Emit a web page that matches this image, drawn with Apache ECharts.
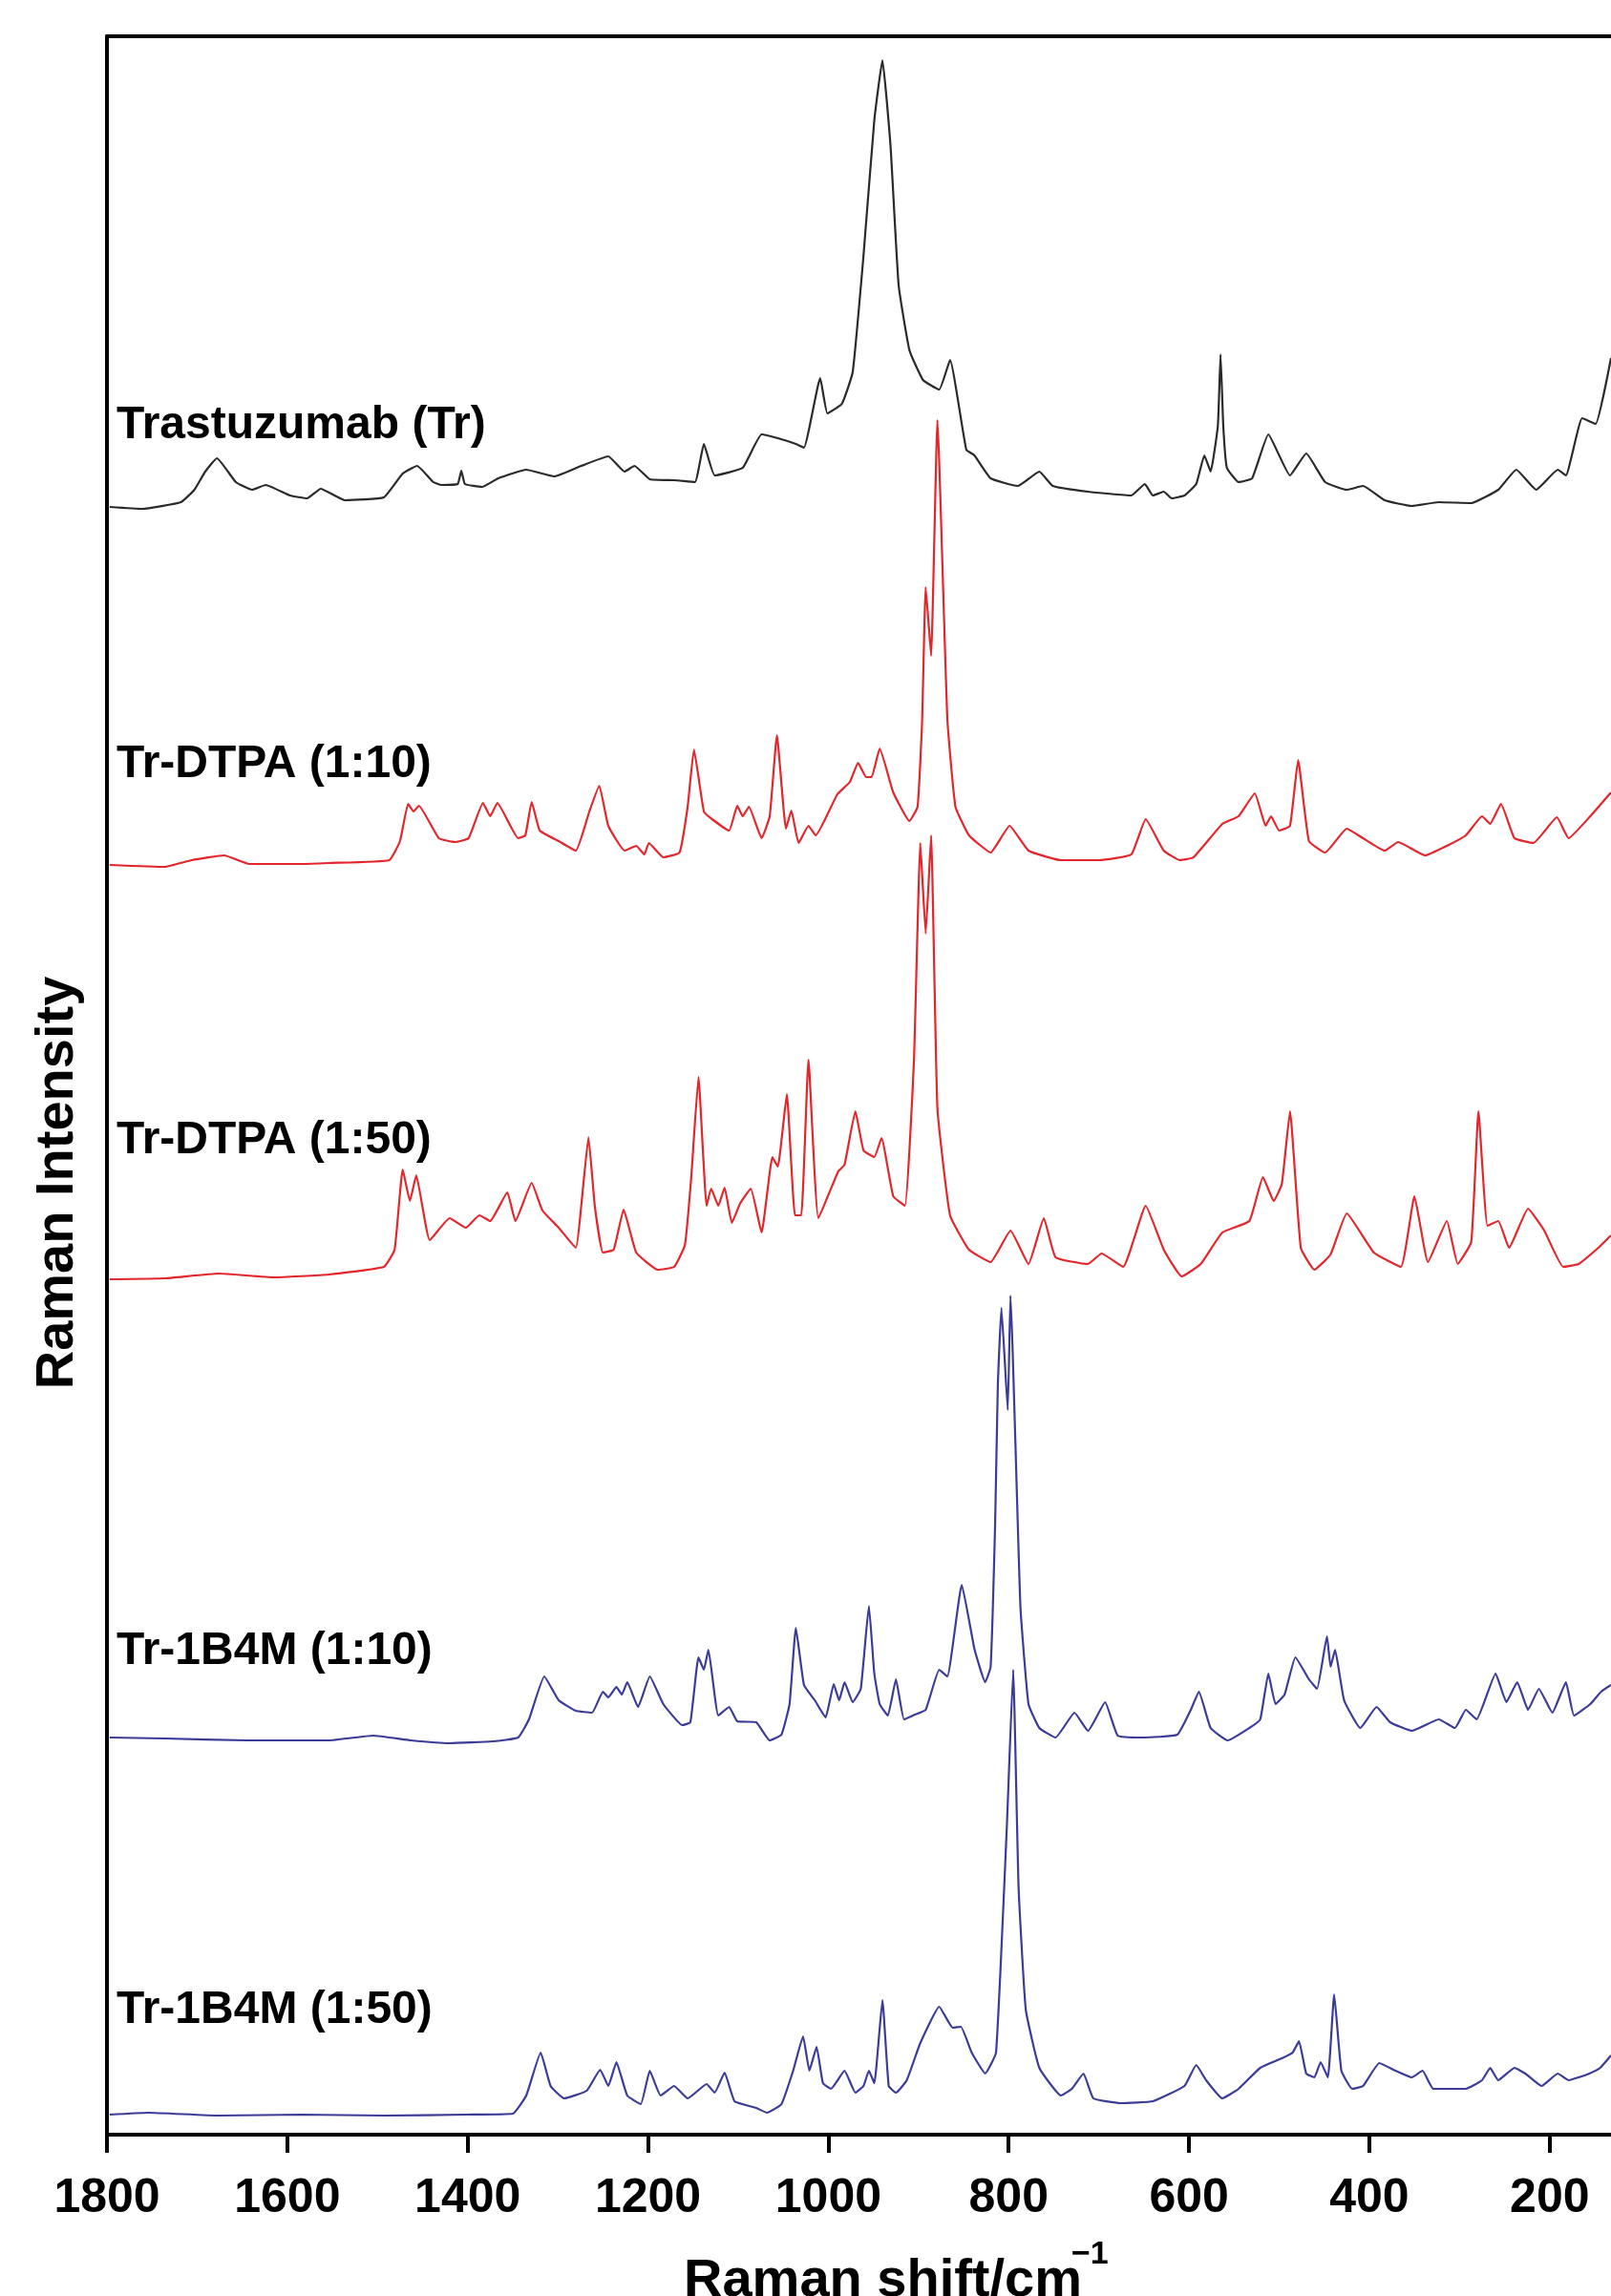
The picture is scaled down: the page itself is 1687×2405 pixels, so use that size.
<!DOCTYPE html>
<html>
<head>
<meta charset="utf-8">
<script src="https://cdn.jsdelivr.net/npm/echarts@6/dist/echarts.min.js"></script>
<style>
html,body{margin:0;padding:0;background:#fff;}
#chart{width:1687px;height:2405px;}
</style>
</head>
<body>
<div id="chart"></div>
<script>
// ---- data (x = Raman shift in cm-1, y = intensity in arbitrary stacked units) ----
const tickValues = [1800, 1600, 1400, 1200, 1000, 800, 600, 400, 200];
const seriesNames = ['Trastuzumab (Tr)', 'Tr-DTPA (1:10)', 'Tr-DTPA (1:50)', 'Tr-1B4M (1:10)', 'Tr-1B4M (1:50)'];

const trastuzumab = [[1797,1705],[1761,1703],[1718,1710],[1703,1723],[1691,1742],[1678,1756],[1657,1731],[1639,1723],[1624,1728],[1597,1717],[1578,1714],[1563,1724],[1536,1712],[1493,1715],[1472,1740],[1456,1748],[1438,1731],[1429,1728],[1411,1729],[1407,1743],[1403,1729],[1384,1726],[1366,1735],[1335,1744],[1304,1737],[1274,1748],[1244,1758],[1226,1742],[1215,1748],[1198,1734],[1171,1733],[1148,1731],[1138,1771],[1126,1738],[1095,1746],[1074,1781],[1056,1777],[1036,1771],[1027,1767],[1009,1840],[1001,1803],[985,1813],[973,1846],[961,1968],[949,2110],[940,2173],[931,2083],[922,1937],[910,1869],[895,1838],[877,1828],[865,1859],[847,1765],[838,1759],[820,1735],[790,1727],[766,1742],[751,1727],[712,1721],[664,1717],[649,1729],[640,1717],[628,1721],[619,1714],[605,1717],[592,1729],[583,1759],[576,1742],[568,1790],[565,1865],[562,1790],[558,1746],[545,1731],[530,1735],[512,1781],[488,1738],[470,1761],[449,1731],[425,1723],[407,1727],[383,1712],[353,1706],[323,1710],[287,1709],[257,1723],[237,1744],[215,1723],[191,1744],[182,1738],[164,1798],[149,1792],[132,1861]];

const dtpa10 = [[1797,1330],[1736,1328],[1706,1335],[1670,1340],[1642,1331],[1584,1331],[1554,1332],[1487,1335],[1475,1355],[1466,1394],[1460,1386],[1454,1392],[1432,1358],[1414,1354],[1399,1358],[1383,1395],[1375,1381],[1367,1395],[1344,1358],[1336,1361],[1329,1396],[1320,1366],[1299,1355],[1280,1345],[1265,1386],[1254,1413],[1244,1371],[1226,1345],[1213,1350],[1204,1341],[1199,1353],[1183,1338],[1165,1343],[1156,1391],[1149,1451],[1138,1386],[1129,1378],[1110,1366],[1101,1392],[1095,1381],[1088,1391],[1074,1358],[1065,1381],[1057,1466],[1047,1368],[1041,1387],[1033,1353],[1022,1371],[1014,1361],[990,1404],[976,1417],[967,1437],[958,1422],[952,1422],[943,1452],[928,1406],[910,1376],[901,1391],[896,1480],[892,1621],[886,1549],[879,1796],[868,1483],[859,1391],[844,1361],[820,1343],[799,1371],[778,1345],[742,1335],[700,1335],[664,1341],[648,1378],[628,1345],[610,1335],[595,1338],[563,1373],[545,1381],[527,1405],[515,1371],[509,1381],[500,1366],[488,1371],[479,1440],[467,1355],[449,1343],[425,1368],[407,1358],[383,1345],[368,1354],[338,1340],[314,1350],[293,1361],[275,1381],[266,1373],[254,1394],[239,1358],[218,1353],[192,1380],[179,1358],[155,1381],[132,1406]];

const dtpa50 = [[1797,896],[1736,897],[1676,902],[1615,898],[1554,901],[1493,909],[1481,927],[1472,1011],[1464,978],[1457,1005],[1442,937],[1420,960],[1402,950],[1387,963],[1375,957],[1356,987],[1347,957],[1329,997],[1317,968],[1299,950],[1280,929],[1274,973],[1266,1045],[1259,973],[1250,924],[1238,927],[1227,969],[1213,924],[1189,906],[1171,909],[1159,932],[1152,1003],[1144,1108],[1135,973],[1130,991],[1122,973],[1115,992],[1107,955],[1098,975],[1086,991],[1074,945],[1062,1024],[1056,1014],[1046,1090],[1037,963],[1030,963],[1022,1126],[1011,960],[989,1009],[982,1016],[970,1072],[961,1031],[949,1024],[941,1044],[928,983],[915,973],[905,1126],[898,1353],[892,1258],[886,1361],[879,1075],[865,963],[844,927],[820,914],[798,947],[778,912],[761,960],[748,919],[712,912],[697,923],[673,909],[648,973],[628,927],[608,899],[587,912],[563,945],[533,957],[518,1003],[506,978],[497,996],[488,1072],[476,929],[461,906],[443,922],[425,965],[395,924],[365,909],[350,983],[335,914],[314,957],[302,912],[287,935],[279,1072],[269,952],[257,957],[245,929],[224,970],[206,947],[185,909],[168,912],[146,929],[132,942]];

const b4m10 = [[1797,416],[1736,415],[1645,413],[1554,413],[1505,418],[1463,413],[1420,410],[1372,412],[1344,416],[1332,435],[1315,480],[1299,455],[1280,444],[1262,442],[1250,464],[1244,458],[1235,469],[1229,461],[1223,474],[1211,448],[1198,480],[1183,451],[1162,429],[1153,432],[1144,500],[1138,487],[1133,508],[1122,439],[1110,448],[1101,433],[1080,432],[1065,413],[1052,419],[1043,451],[1036,531],[1027,471],[1015,455],[1003,437],[994,472],[988,455],[982,474],[973,453],[964,467],[955,554],[949,483],[943,451],[934,439],[925,477],[916,435],[904,440],[892,445],[877,487],[868,480],[852,576],[838,509],[826,474],[820,490],[815,640],[812,785],[808,866],[801,759],[798,879],[787,554],[778,451],[766,426],[748,416],[727,442],[712,423],[693,453],[679,418],[652,416],[613,419],[598,445],[589,464],[576,426],[557,413],[533,426],[521,435],[512,483],[504,451],[494,461],[482,500],[467,477],[458,467],[447,522],[443,490],[438,508],[428,455],[410,426],[392,448],[377,432],[353,423],[323,435],[305,426],[293,445],[281,435],[260,483],[248,453],[236,474],[224,445],[212,467],[197,442],[182,474],[173,439],[155,451],[143,464],[132,471]];

const b4m50 = [[1797,21],[1755,23],[1676,20],[1584,21],[1493,20],[1402,21],[1350,22],[1335,41],[1319,86],[1308,51],[1293,38],[1268,46],[1253,68],[1244,51],[1235,76],[1223,41],[1208,32],[1198,67],[1186,41],[1171,51],[1156,38],[1135,53],[1126,44],[1115,65],[1104,35],[1080,28],[1068,23],[1052,32],[1039,67],[1028,103],[1021,67],[1013,92],[1006,54],[997,48],[982,67],[970,44],[961,51],[955,67],[949,54],[940,141],[933,51],[925,44],[913,57],[898,96],[877,134],[862,112],[853,113],[841,86],[826,64],[814,86],[802,323],[795,487],[789,259],[781,131],[766,70],[742,41],[730,48],[717,64],[706,38],[676,33],[640,35],[605,51],[592,73],[581,57],[563,38],[545,48],[521,70],[497,80],[485,86],[478,98],[470,64],[461,60],[454,76],[446,60],[439,147],[431,67],[419,48],[407,51],[389,75],[371,67],[353,60],[341,67],[329,48],[293,48],[275,57],[266,70],[257,57],[239,70],[227,64],[209,51],[191,64],[179,57],[168,60],[156,64],[144,70],[132,83]];

const seriesData = [trastuzumab, dtpa10, dtpa50, b4m10, b4m50];
const seriesColors = ['#2a2a2a', '#e3262b', '#e3262b', '#3c3c98', '#3c3c98'];
const labelY = [446, 801, 1195, 1730, 2106];

// ---- chart ----
const FONT = '"Liberation Sans", Arial, Helvetica, sans-serif';
const chart = echarts.init(document.getElementById('chart'), null, {renderer: 'canvas'});

const graphics = [
  {type: 'text', x: 61, y: 1239, rotation: Math.PI / 2,
   style: {text: 'Raman Intensity', fill: '#000', fontSize: 56, fontWeight: 'bold', fontFamily: FONT,
           textAlign: 'center', textVerticalAlign: 'middle'}},
  {type: 'text', x: 716, y: 2390,
   style: {text: 'Raman shift/cm', fill: '#000', fontSize: 56, fontWeight: 'bold', fontFamily: FONT,
           textAlign: 'left', textVerticalAlign: 'middle'}},
  {type: 'text', x: 1122, y: 2362,
   style: {text: '\u22121', fill: '#000', fontSize: 34, fontWeight: 'bold', fontFamily: FONT,
           textAlign: 'left', textVerticalAlign: 'middle'}}
];
seriesNames.forEach((n, i) => {
  graphics.push({type: 'text', x: 122, y: labelY[i],
    style: {text: n, fill: '#000', fontSize: 48, fontWeight: 'bold', fontFamily: FONT,
            textAlign: 'left', textVerticalAlign: 'middle'}});
});

chart.setOption({
  animation: false,
  backgroundColor: '#fff',
  grid: {left: 112, right: 0, top: 38, bottom: 169, containLabel: false},
  xAxis: [{
    type: 'value', inverse: true, min: 132, max: 1800, position: 'bottom',
    axisLine: {show: true, onZero: false, lineStyle: {color: '#000', width: 4}},
    axisTick: {show: true, customValues: tickValues, length: 19, lineStyle: {color: '#000', width: 4}},
    axisLabel: {show: true, customValues: tickValues, fontSize: 50, fontWeight: 'bold', color: '#000',
                fontFamily: FONT, margin: 42, formatter: v => String(v)},
    splitLine: {show: false}
  }, {
    type: 'value', inverse: true, min: 132, max: 1800, position: 'top',
    axisLine: {show: true, onZero: false, lineStyle: {color: '#000', width: 4}},
    axisTick: {show: false}, axisLabel: {show: false}, splitLine: {show: false}
  }],
  yAxis: {
    type: 'value', min: 0, max: 2198,
    axisLine: {show: true, onZero: false, lineStyle: {color: '#000', width: 4}},
    axisTick: {show: false}, axisLabel: {show: false}, splitLine: {show: false}
  },
  series: seriesData.map((d, i) => ({
    name: seriesNames[i], type: 'line', data: d, showSymbol: false, symbol: 'none',
    smooth: 0.12,
    xAxisIndex: 0, yAxisIndex: 0,
    lineStyle: {color: seriesColors[i], width: 2.2}, itemStyle: {color: seriesColors[i]}
  })),
  graphic: graphics
});
</script>
</body>
</html>
